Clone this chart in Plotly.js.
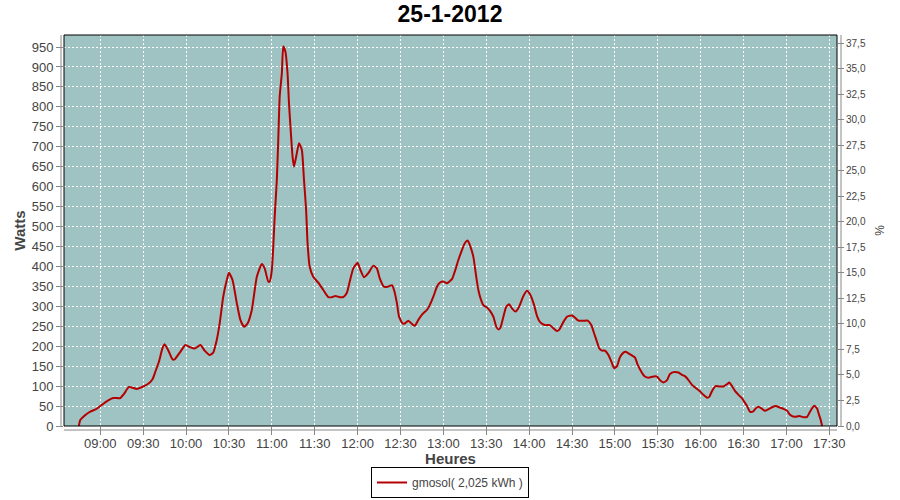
<!DOCTYPE html>
<html>
<head>
<meta charset="utf-8">
<script src="https://cdn.plot.ly/plotly-3.0.1.min.js"></script>
<style>html,body{margin:0;padding:0;background:#fff;}#chart{width:900px;height:500px;}</style>
</head>
<body>
<div id="chart"></div>
<script>
// ---- data (25-1-2012) ----
const day = '2012-01-25';
const seriesName = 'gmosol( 2,025 kWh )';
const times = [
'08:45:00','08:46:00','08:50:00','08:53:00','08:57:00','09:00:00','09:05:00','09:09:00','09:14:00','09:16:30',
'09:20:00','09:22:30','09:25:30','09:30:00','09:34:00','09:36:30','09:38:30','09:41:00','09:43:30','09:45:00',
'09:47:30','09:50:30','09:52:00','09:56:00','09:59:30','10:03:00','10:06:00','10:10:00','10:13:00','10:16:30',
'10:19:00','10:21:30','10:23:30','10:26:00','10:28:30','10:30:00','10:32:30','10:35:30','10:38:00','10:40:30',
'10:43:00','10:46:00','10:49:30','10:53:00','10:55:00','10:57:30','10:58:30','11:00:00','11:01:00','11:02:00',
'11:03:30','11:04:30','11:05:30','11:07:00','11:08:00','11:09:30','11:11:00','11:12:00','11:13:30','11:14:30',
'11:15:30','11:17:30','11:19:00','11:21:00','11:22:30','11:24:00','11:25:00','11:26:30','11:29:00','11:33:00',
'11:36:00','11:39:30','11:42:00','11:44:30','11:47:30','11:50:00','11:52:30','11:54:30','11:57:00','12:00:00',
'12:02:00','12:04:30','12:07:30','12:11:00','12:13:30','12:15:30','12:18:30','12:21:00','12:24:00','12:25:30',
'12:27:30','12:29:00','12:31:30','12:33:00','12:35:30','12:38:00','12:40:00','12:42:30','12:45:30','12:48:30',
'12:50:30','12:53:00','12:55:30','12:57:30','13:00:00','13:02:30','13:06:00','13:08:00','13:10:30','13:13:00',
'13:15:00','13:17:00','13:18:30','13:21:00','13:23:00','13:24:30','13:26:00','13:28:00','13:30:30','13:32:30',
'13:35:00','13:37:00','13:38:30','13:40:00','13:42:00','13:44:00','13:46:00','13:48:00','13:50:30','13:53:00',
'13:56:00','13:58:30','14:01:00','14:03:30','14:05:30','14:07:30','14:11:00','14:14:30','14:17:00','14:19:30',
'14:21:00','14:24:00','14:26:30','14:28:00','14:30:00','14:32:00','14:34:30','14:38:00','14:41:00','14:43:30',
'14:45:30','14:47:30','14:49:00','14:51:00','14:53:00','14:55:30','14:58:00','14:59:30','15:01:30','15:03:30',
'15:06:00','15:07:30','15:10:30','15:14:00','15:16:00','15:18:30','15:21:00','15:23:30','15:27:00','15:29:30',
'15:31:30','15:34:00','15:36:30','15:38:30','15:41:00','15:44:30','15:47:00','15:49:00','15:51:30','15:54:00',
'15:56:00','15:59:30','16:02:00','16:04:30','16:06:00','16:08:00','16:10:30','16:13:00','16:16:00','16:18:30',
'16:20:00','16:22:00','16:24:00','16:26:30','16:29:00','16:30:30','16:32:30','16:34:30','16:36:30','16:38:30',
'16:40:30','16:43:00','16:45:00','16:47:30','16:50:00','16:52:30','16:55:30','16:58:00','17:00:30','17:02:30',
'17:05:30','17:09:00','17:12:00','17:14:30','17:16:30','17:18:30','17:19:30','17:21:30','17:22:30','17:24:00',
'17:25:00'];
const watts = [
0,15,29,36,42,50,63,70,70,80,
98,96,93,99,107,117,136,161,195,205,
190,167,167,186,203,197,194,203,189,178,
184,216,257,324,366,384,366,308,266,249,
257,291,374,406,395,362,362,391,449,525,
617,717,826,884,951,938,884,809,725,675,
650,684,709,692,617,541,458,399,374,357,
341,323,323,326,323,323,334,362,395,409,
391,373,383,402,395,370,349,349,353,341,
308,274,257,257,264,256,251,266,281,291,
303,324,349,359,362,358,368,387,416,441,
458,465,454,424,374,341,320,303,297,289,
274,249,242,247,274,299,305,295,287,299,
326,339,328,303,276,261,253,253,245,238,
241,261,274,276,277,272,264,264,264,253,
232,211,195,189,189,178,157,145,150,172,
184,186,180,172,153,136,124,121,124,124,
115,109,115,130,135,134,128,125,115,103,
97,87,78,71,73,88,100,99,99,105,
109,100,88,78,69,61,50,36,36,44,
48,43,38,42,47,50,46,43,38,28,
23,25,22,23,36,47,51,44,32,15,
0];
const peakPower = 25.6; // W per % on the right axis
const xRange = ['08:34:36', '17:35:24'];
const leftRange = [0, 980.1];
const rightRange = [0, 38.3];

const xs = times.map(t => day + ' ' + t);
const pct = watts.map(w => w / peakPower);

const FF = 'Liberation Sans, Arial, sans-serif';
const tickFont = {family: FF, size: 13, color: '#444444'};
const grid = {showgrid: true, gridcolor: '#ffffff', gridwidth: 1, griddash: '2px,2px'};

const traces = [
  {x: xs, y: watts, type: 'scatter', mode: 'lines', name: seriesName,
   line: {color: '#b40000', width: 2, shape: 'spline', smoothing: 0.5}, hoverinfo: 'x+y'},
  {x: xs, y: pct, type: 'scatter', mode: 'lines', yaxis: 'y2', showlegend: false,
   line: {color: 'rgba(0,0,0,0)', width: 0}, hoverinfo: 'skip'}
];

const layout = {
  width: 900, height: 500,
  margin: {l: 64, r: 63, t: 35, b: 74, pad: 0},
  paper_bgcolor: '#ffffff', plot_bgcolor: '#9ec3c2',
  separators: ', ',
  font: {family: FF, color: '#444444'},
  title: {text: '<b>25-1-2012</b>', x: 0.5, xanchor: 'center', y: 0.972, yanchor: 'middle', yref: 'container',
          font: {family: FF, size: 23, color: '#000000'}},
  xaxis: Object.assign({
    type: 'date', range: xRange.map(t => day + ' ' + t),
    tick0: day + ' 09:00', dtick: 30 * 60 * 1000, tickformat: '%H:%M',
    ticks: 'outside', ticklen: 8, tickcolor: '#888888', tickwidth: 1, ticklabelstandoff: -3,
    tickfont: tickFont, showline: false, zeroline: false, fixedrange: true, automargin: false,
    title: {text: '<b>Heures</b>', standoff: 4, font: {family: FF, size: 15, color: '#444444'}}
  }, grid),
  yaxis: Object.assign({
    range: leftRange, dtick: 50, tick0: 0,
    ticks: 'outside', ticklen: 7, tickcolor: '#888888', tickwidth: 1,
    tickfont: tickFont, showline: false, zeroline: false, fixedrange: true, automargin: false,
    title: {text: '<b>Watts</b>', standoff: 2, font: {family: FF, size: 15, color: '#444444'}}
  }, grid),
  yaxis2: {
    overlaying: 'y', side: 'right', range: rightRange, dtick: 2.5, tick0: 0, tickformat: '.1f',
    ticks: 'outside', ticklen: 6, tickcolor: '#888888', tickwidth: 1,
    tickfont: {family: FF, size: 10, color: '#444444'}, automargin: false,
    showgrid: false, showline: false, zeroline: false, fixedrange: true,
    title: {text: '%', standoff: 10, font: {family: FF, size: 12, color: '#444444'}}
  },
  showlegend: true,
  legend: {orientation: 'h', xref: 'container', yref: 'container', x: 0.5, xanchor: 'center', y: 0.004, yanchor: 'bottom',
           bordercolor: '#000000', borderwidth: 1, bgcolor: '#ffffff',
           font: {family: FF, size: 12, color: '#444444'}},
  shapes: [
    {type: 'rect', xref: 'paper', yref: 'paper', x0: 0, x1: 1, y0: 0, y1: 1, layer: 'above',
     line: {color: '#000000', width: 1}},
    {type: 'line', xref: 'paper', yref: 'paper', xsizemode: 'pixel', xanchor: 0, x0: -3, x1: -3, y0: 0, y1: 1,
     line: {color: '#888888', width: 1}},
    {type: 'line', xref: 'paper', yref: 'paper', xsizemode: 'pixel', xanchor: 1, x0: 4, x1: 4, y0: 0, y1: 1,
     line: {color: '#888888', width: 1}},
    {type: 'line', xref: 'paper', yref: 'paper', ysizemode: 'pixel', yanchor: 0, y0: -4, y1: -4, x0: 0, x1: 1,
     line: {color: '#888888', width: 1}}
  ]
};

Plotly.newPlot('chart', traces, layout, {staticPlot: true, displayModeBar: false});
</script>
</body>
</html>
